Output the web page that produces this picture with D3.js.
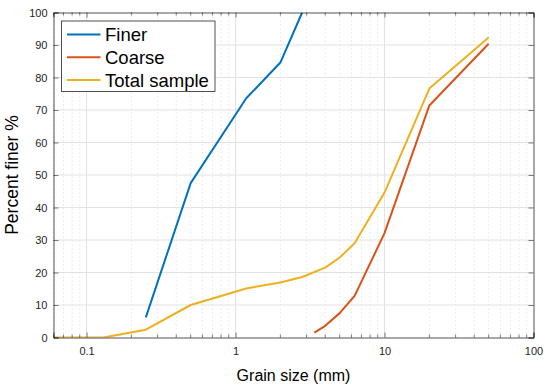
<!DOCTYPE html>
<html>
<head>
<meta charset="utf-8">
<script src="https://cdn.jsdelivr.net/npm/d3@7"></script>
<style>
  body { margin: 0; background: #fff; }
  svg { display: block; font-family: "Liberation Sans", Arial, Helvetica, sans-serif; }
</style>
</head>
<body>
<script>
// grain size distribution
const finerSize = [0.25, 0.5, 1.18, 2, 2.8];
const finerPct = [6.2, 47.5, 73.6, 84.6, 100];

const coarseSize = [3.38, 4, 5, 6.3, 10, 20, 50];
const coarsePct = [1.5, 3.6, 7.5, 12.8, 32.1, 71.4, 90.4];

const totalSize = [0.06, 0.13, 0.25, 0.5, 1.18, 2, 2.8, 4, 5, 6.3, 10, 20, 50];
const totalPct = [0, 0, 2.4, 10, 15.1, 16.9, 18.6, 21.5, 24.6, 29, 44.6, 76.6, 92.3];

const seriesNames = ['Finer', 'Coarse', 'Total sample'];
const xTicks = [0.1, 1, 10, 100];
const xTickLabels = ['0.1', '1', '10', '100'];
const yTicks = [0, 10, 20, 30, 40, 50, 60, 70, 80, 90, 100];

const width = 550;
const height = 389;
const margin = {left: 53.5, top: 12.5, right: 16.5, bottom: 51.5};
const iw = width - margin.left - margin.right;
const ih = height - margin.top - margin.bottom;

const colors = ['#0072BD', '#D95319', '#EDB120'];
const axisColor = '#262626';

let svg = d3.select('body')
            .append('svg')
            .attr('width', width)
            .attr('height', height);

let x = d3.scaleLog().domain([0.06, 100]).range([0, iw]);
let y = d3.scaleLinear().domain([0, 100]).range([ih, 0]);

let g = svg.append('g').attr('transform', `translate(${margin.left},${margin.top})`);

// minor ticks for the log axis
let minorTicks = [];
[0.01, 0.1, 1, 10].forEach(base => {
    for (let k = 2; k <= 9; k++) {
        let v = +(base * k).toPrecision(3);
        if (v >= 0.06 && v < 100) minorTicks.push(v);
    }
});

// grid
g.selectAll('.minor-grid')
 .data(minorTicks)
 .enter()
 .append('line')
 .attr('x1', d => x(d)).attr('x2', d => x(d))
 .attr('y1', 0).attr('y2', ih)
 .attr('stroke', '#cfcfcf')
 .attr('stroke-width', 0.8)
 .attr('stroke-dasharray', '1,3');

g.selectAll('.xgrid')
 .data(xTicks.slice(0, 3))
 .enter()
 .append('line')
 .attr('x1', d => x(d)).attr('x2', d => x(d))
 .attr('y1', 0).attr('y2', ih)
 .attr('stroke', '#e2e2e2')
 .attr('stroke-width', 1);

g.selectAll('.ygrid')
 .data(yTicks.slice(1, 10))
 .enter()
 .append('line')
 .attr('x1', 0).attr('x2', iw)
 .attr('y1', d => y(d)).attr('y2', d => y(d))
 .attr('stroke', '#e2e2e2')
 .attr('stroke-width', 1);

// curves
svg.append('clipPath').attr('id', 'clip')
   .append('rect').attr('width', iw).attr('height', ih);

let line = d3.line()
             .x(d => x(d[0]))
             .y(d => y(d[1]));

let series = [
    d3.zip(finerSize, finerPct),
    d3.zip(coarseSize, coarsePct),
    d3.zip(totalSize, totalPct)
];

g.append('g')
 .attr('clip-path', 'url(#clip)')
 .selectAll('path')
 .data(series)
 .enter()
 .append('path')
 .attr('d', line)
 .attr('fill', 'none')
 .attr('stroke', (d, i) => colors[i])
 .attr('stroke-width', 2)
 .attr('stroke-linejoin', 'round');

// axes (ticks point inward, box on)
let bottomAxis = g.append('g').attr('transform', `translate(0,${ih})`)
    .call(d3.axisBottom(x).tickValues(xTicks).tickFormat((d, i) => xTickLabels[i]).tickSize(-5).tickPadding(10));
let topAxis = g.append('g')
    .call(d3.axisTop(x).tickValues(xTicks).tickFormat('').tickSize(-5));
let leftAxis = g.append('g')
    .call(d3.axisLeft(y).tickValues(yTicks).tickSize(-5).tickPadding(6));
let rightAxis = g.append('g').attr('transform', `translate(${iw},0)`)
    .call(d3.axisRight(y).tickValues(yTicks).tickFormat('').tickSize(-5));

// minor ticks on top and bottom
[[ih, -3], [0, 3]].forEach(([y0, len]) => {
    g.selectAll(null)
     .data(minorTicks)
     .enter()
     .append('line')
     .attr('x1', d => x(d)).attr('x2', d => x(d))
     .attr('y1', y0).attr('y2', y0 + len)
     .attr('stroke', axisColor)
     .attr('stroke-width', 0.6);
});

[bottomAxis, topAxis, leftAxis, rightAxis].forEach(a => {
    a.select('.domain').attr('stroke', axisColor).attr('stroke-width', 0.8);
    a.selectAll('.tick line').attr('stroke', axisColor).attr('stroke-width', 0.6);
    a.selectAll('.tick text')
     .attr('fill', axisColor)
     .attr('font-size', 11)
     .attr('font-family', '"Liberation Sans", Arial, sans-serif');
});

// axis labels
svg.append('text')
   .attr('x', margin.left + iw / 2)
   .attr('y', 381)
   .attr('text-anchor', 'middle')
   .attr('font-size', 16)
   .attr('fill', '#000')
   .text('Grain size (mm)');

svg.append('text')
   .attr('transform', `translate(18,${margin.top + ih / 2}) rotate(-90)`)
   .attr('text-anchor', 'middle')
   .attr('font-size', 17.5)
   .attr('fill', '#000')
   .text('Percent finer %');

// legend
let legend = svg.append('g').attr('transform', 'translate(61.5,21)');
legend.append('rect')
      .attr('width', 153.5)
      .attr('height', 70.5)
      .attr('fill', '#fff')
      .attr('stroke', axisColor)
      .attr('stroke-width', 0.8);

let rows = legend.selectAll('.row')
                 .data(seriesNames)
                 .enter()
                 .append('g')
                 .attr('transform', (d, i) => `translate(0,${13.5 + i * 22.8})`);

rows.append('line')
    .attr('x1', 5.5).attr('x2', 39)
    .attr('stroke', (d, i) => colors[i])
    .attr('stroke-width', 2);

rows.append('text')
    .attr('x', 43.5)
    .attr('dy', '0.35em')
    .attr('font-size', 18.5)
    .attr('fill', '#000')
    .text(d => d);
</script>
</body>
</html>
